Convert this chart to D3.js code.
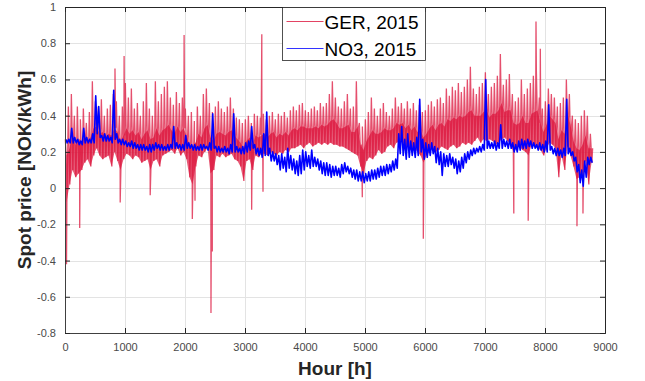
<!DOCTYPE html>
<html>
<head>
<meta charset="utf-8">
<script src="https://cdn.jsdelivr.net/npm/d3@7"></script>
<style>
  body { margin: 0; background: #fff; }
  svg { display: block; font-family: "Liberation Sans", Arial, sans-serif; }
</style>
</head>
<body>
<svg id="chart" width="645" height="381"></svg>
<script>
// hourly spot prices, read off the picture as 50-hour bins
// (upper edge, dense middle and lower edge of the trace)
const binHours = 50;

const gerHi = [
  0.27,0.45,0.52,0.40,0.45,0.38,0.44,0.36,0.42,0.59, 0.48,0.45,0.49,0.40,0.44,0.46,0.52,0.48,0.40,0.45,
  0.58,0.50,0.55,0.44,0.47,0.40,0.48,0.58,0.44,0.40, 0.59,0.48,0.52,0.56,0.59,0.50,0.46,0.53,0.47,0.50,
  0.44,0.40,0.42,0.37,0.45,0.40,0.52,0.55,0.47,0.42, 0.45,0.48,0.44,0.42,0.45,0.50,0.44,0.39,0.38,0.36,
  0.38,0.40,0.36,0.41,0.40,0.39,0.41,0.38,0.40,0.42, 0.38,0.41,0.40,0.42,0.39,0.43,0.45,0.43,0.46,0.47,
  0.43,0.42,0.44,0.45,0.43,0.47,0.45,0.47,0.52,0.59, 0.50,0.45,0.44,0.48,0.52,0.44,0.45,0.59,0.36,0.34,
  0.38,0.42,0.50,0.44,0.40,0.44,0.47,0.42,0.40,0.44, 0.50,0.45,0.47,0.44,0.48,0.44,0.47,0.43,0.46,0.42,
  0.43,0.46,0.48,0.45,0.49,0.50,0.47,0.55,0.51,0.56, 0.54,0.58,0.53,0.56,0.60,0.67,0.55,0.52,0.56,0.58,
  0.64,0.52,0.56,0.58,0.62,0.74,0.57,0.60,0.63,0.52, 0.48,0.50,0.60,0.52,0.55,0.58,0.62,0.65,0.50,0.44,
  0.48,0.55,0.52,0.50,0.45,0.47,0.50,0.60,0.52,0.40, 0.38,0.36,0.40,0.43,0.40,0.30
];
const gerMid = [
  0.18,0.22,0.30,0.24,0.27,0.25,0.29,0.26,0.28,0.33, 0.34,0.30,0.31,0.28,0.30,0.29,0.33,0.31,0.26,0.29,
  0.33,0.30,0.32,0.29,0.31,0.27,0.30,0.32,0.27,0.28, 0.33,0.29,0.32,0.33,0.35,0.32,0.30,0.34,0.31,0.33,
  0.29,0.24,0.22,0.25,0.30,0.28,0.33,0.35,0.28,0.26, 0.30,0.31,0.30,0.29,0.31,0.32,0.29,0.27,0.25,0.22,
  0.26,0.28,0.24,0.29,0.28,0.29,0.30,0.28,0.30,0.31, 0.28,0.30,0.29,0.31,0.29,0.32,0.33,0.32,0.34,0.34,
  0.33,0.33,0.33,0.34,0.33,0.35,0.34,0.35,0.37,0.38, 0.36,0.33,0.33,0.34,0.35,0.31,0.31,0.34,0.24,0.21,
  0.26,0.29,0.32,0.30,0.30,0.31,0.33,0.32,0.32,0.33, 0.36,0.35,0.36,0.33,0.35,0.32,0.34,0.31,0.32,0.28,
  0.30,0.33,0.35,0.32,0.35,0.36,0.34,0.38,0.37,0.39, 0.38,0.40,0.39,0.40,0.42,0.43,0.40,0.40,0.40,0.42,
  0.43,0.39,0.41,0.41,0.43,0.47,0.42,0.43,0.43,0.36, 0.35,0.36,0.40,0.36,0.36,0.41,0.42,0.43,0.36,0.31,
  0.35,0.40,0.38,0.36,0.27,0.32,0.30,0.41,0.35,0.26, 0.22,0.21,0.24,0.29,0.22,0.22
];
const gerLo = [
  -0.08,0.02,0.10,0.06,0.08,0.10,0.14,0.16,0.12,0.18, 0.22,0.18,0.16,0.17,0.18,0.12,0.20,0.15,0.10,0.16,
  0.19,0.18,0.16,0.18,0.17,0.14,0.15,0.16,0.10,0.15, 0.16,0.12,0.18,0.19,0.20,0.21,0.19,0.22,0.18,0.20,
  0.16,0.06,0.02,0.12,0.18,0.17,0.20,0.22,0.08,0.10, 0.18,0.17,0.19,0.17,0.18,0.19,0.16,0.15,0.12,0.04,
  0.15,0.16,0.10,0.18,0.17,0.19,0.19,0.18,0.20,0.19, 0.18,0.20,0.19,0.21,0.20,0.22,0.22,0.23,0.24,0.22,
  0.24,0.25,0.23,0.24,0.25,0.24,0.25,0.24,0.25,0.24, 0.24,0.23,0.23,0.22,0.21,0.20,0.19,0.18,0.12,0.08,
  0.15,0.17,0.16,0.18,0.21,0.19,0.20,0.23,0.24,0.22, 0.25,0.26,0.25,0.22,0.24,0.20,0.22,0.20,0.18,0.14,
  0.18,0.20,0.22,0.20,0.21,0.23,0.22,0.21,0.23,0.24, 0.22,0.23,0.25,0.24,0.25,0.24,0.26,0.28,0.25,0.27,
  0.26,0.27,0.26,0.24,0.25,0.27,0.28,0.26,0.24,0.20, 0.22,0.23,0.21,0.20,0.18,0.24,0.23,0.22,0.21,0.18,
  0.22,0.25,0.24,0.22,0.06,0.18,0.10,0.23,0.18,0.12, 0.05,0.06,0.08,0.15,0.02,0.14
];
// single-hour extremes of the German price: [hour, NOK/kWh]
const gerSpikes = [
  [25,-0.42],[245,-0.22],[833,0.66],[920,-0.08],[985,0.73],[1420,-0.04],[1985,0.845],
  [2122,-0.17],[2167,-0.07],[2433,-0.69],[2455,-0.35],[3111,-0.12],[3280,0.85],[3300,-0.02],
  [4955,-0.05],[5972,-0.28],[7480,-0.14],[7720,-0.18],[7850,0.92],[7922,0.77],[8533,-0.21],[8633,-0.14]
];

const no3Hi = [
  0.27,0.27,0.33,0.28,0.27,0.26,0.33,0.28,0.27,0.30, 0.51,0.45,0.29,0.30,0.29,0.28,0.54,0.30,0.27,0.27,
  0.26,0.25,0.26,0.25,0.24,0.24,0.24,0.23,0.24,0.24, 0.25,0.24,0.24,0.23,0.24,0.24,0.34,0.25,0.24,0.24,
  0.29,0.25,0.24,0.24,0.23,0.24,0.24,0.23,0.25,0.41, 0.23,0.23,0.22,0.23,0.22,0.24,0.41,0.23,0.22,0.23,
  0.25,0.26,0.34,0.24,0.22,0.22,0.30,0.42,0.22,0.20, 0.19,0.18,0.19,0.17,0.22,0.18,0.16,0.15,0.18,0.21,
  0.20,0.18,0.21,0.17,0.16,0.15,0.14,0.14,0.13,0.12, 0.12,0.11,0.13,0.14,0.12,0.11,0.10,0.10,0.09,0.09,
  0.08,0.09,0.10,0.10,0.11,0.12,0.12,0.13,0.13,0.15, 0.16,0.30,0.34,0.27,0.30,0.26,0.25,0.28,0.49,0.27,
  0.25,0.24,0.25,0.23,0.22,0.20,0.19,0.18,0.19,0.17, 0.16,0.15,0.17,0.19,0.20,0.21,0.22,0.22,0.23,0.24,
  0.60,0.26,0.25,0.26,0.25,0.35,0.27,0.26,0.27,0.25, 0.24,0.26,0.27,0.26,0.27,0.26,0.25,0.24,0.25,0.24,
  0.26,0.46,0.23,0.22,0.22,0.21,0.22,0.49,0.22,0.20, 0.17,0.13,0.10,0.15,0.17,0.17
];
const no3Lo = [
  0.25,0.25,0.25,0.25,0.24,0.24,0.25,0.25,0.25,0.25, 0.30,0.28,0.26,0.26,0.26,0.25,0.27,0.25,0.24,0.24,
  0.23,0.23,0.22,0.22,0.21,0.21,0.21,0.20,0.20,0.21, 0.22,0.21,0.21,0.21,0.21,0.22,0.22,0.22,0.21,0.21,
  0.22,0.22,0.21,0.21,0.21,0.21,0.22,0.21,0.21,0.22, 0.20,0.20,0.20,0.20,0.19,0.20,0.20,0.20,0.19,0.19,
  0.20,0.21,0.22,0.19,0.18,0.17,0.18,0.18,0.15,0.15, 0.13,0.10,0.11,0.09,0.11,0.10,0.08,0.07,0.08,0.10,
  0.12,0.11,0.12,0.12,0.10,0.08,0.07,0.07,0.06,0.07, 0.07,0.06,0.08,0.09,0.08,0.06,0.05,0.04,0.04,0.03,
  0.04,0.04,0.05,0.05,0.06,0.07,0.07,0.08,0.09,0.10, 0.11,0.19,0.18,0.16,0.17,0.18,0.17,0.18,0.20,0.16,
  0.17,0.18,0.19,0.14,0.13,0.07,0.12,0.12,0.13,0.11, 0.08,0.09,0.11,0.14,0.16,0.18,0.19,0.20,0.20,0.21,
  0.22,0.22,0.22,0.21,0.22,0.22,0.23,0.22,0.22,0.20, 0.20,0.21,0.22,0.22,0.23,0.22,0.22,0.21,0.21,0.20,
  0.20,0.21,0.19,0.18,0.18,0.17,0.18,0.19,0.18,0.15, 0.09,0.03,0.01,0.06,0.13,0.14
];

const xTicks = [0,1000,2000,3000,4000,5000,6000,7000,8000,9000];
const yTicks = [-0.8,-0.6,-0.4,-0.2,0,0.2,0.4,0.6,0.8,1];
const seriesNames = ["GER, 2015", "NO3, 2015"];
const seriesColors = ["#dc143c", "#0000ff"];

const svg = d3.select("#chart");
const margin = { top: 7, right: 40, bottom: 48, left: 65 },
  width = 645 - margin.left - margin.right,
  height = 381 - margin.top - margin.bottom;

const x = d3.scaleLinear().domain([0, 9000]).range([0, width]);
const y = d3.scaleLinear().domain([-0.8, 1]).range([height, 0]);

const g = svg.append("g").attr("transform", `translate(${margin.left},${margin.top})`);

// grid
g.append("g")
  .selectAll("line")
  .data(xTicks.slice(1, -1))
  .enter()
  .append("line")
  .attr("x1", (d) => Math.round(x(d)) + 0.5)
  .attr("x2", (d) => Math.round(x(d)) + 0.5)
  .attr("y1", 0)
  .attr("y2", height)
  .attr("stroke", "#e3e3e3");
g.append("g")
  .selectAll("line")
  .data(yTicks.slice(1, -1))
  .enter()
  .append("line")
  .attr("y1", (d) => Math.round(y(d)) + 0.5)
  .attr("y2", (d) => Math.round(y(d)) + 0.5)
  .attr("x1", 0)
  .attr("x2", width)
  .attr("stroke", "#e3e3e3");

// one bin -> its edge values in hour order; extremes merged in by hour
const toPoints = (cols, offsets, spikes) => {
  const pts = cols[0].flatMap((_, i) =>
    cols.map((c, k) => ({ h: i * binHours + offsets[k], v: c[i] }))
  );
  (spikes || []).forEach((s) => pts.push({ h: s[0], v: s[1] }));
  return pts.sort((a, b) => a.h - b.h);
};

const line = d3
  .line()
  .x((d) => x(d.h))
  .y((d) => y(d.v));

// dense core of the German trace (lower edge up to the middle level)
const core = d3
  .area()
  .x((d, i) => x(i * binHours + 25))
  .y0((d, i) => y(gerLo[i]))
  .y1((d) => y(d));

g.append("path")
  .datum(gerMid)
  .attr("fill", seriesColors[0])
  .attr("fill-opacity", 0.7)
  .attr("d", core);

g.append("path")
  .datum(toPoints([gerHi, gerMid, gerLo, gerMid], [6, 19, 31, 44], gerSpikes))
  .attr("fill", "none")
  .attr("stroke", seriesColors[0])
  .attr("stroke-opacity", 0.75)
  .attr("stroke-width", 1.3)
  .attr("d", line);

g.append("path")
  .datum(toPoints([no3Hi, no3Lo], [12, 37]))
  .attr("fill", "none")
  .attr("stroke", seriesColors[1])
  .attr("stroke-width", 1.6)
  .attr("stroke-linejoin", "round")
  .attr("d", line);

// axes (box, inward ticks like the original)
const tickColor = "#262626";
g.append("g")
  .attr("transform", `translate(0,${height})`)
  .call(d3.axisBottom(x).tickValues(xTicks).tickSize(-5).tickPadding(10).tickFormat(d3.format("d")))
  .call((a) => a.select(".domain").attr("stroke", "#404040"));
g.append("g")
  .call(d3.axisLeft(y).tickValues(yTicks).tickSize(-5).tickPadding(9).tickFormat((d) => String(+d.toFixed(1))))
  .call((a) => a.select(".domain").attr("stroke", "#404040"));
g.append("g")
  .attr("transform", `translate(${width},0)`)
  .call(d3.axisRight(y).tickValues(yTicks).tickSize(-5).tickFormat(""))
  .call((a) => a.select(".domain").attr("stroke", tickColor));
g.append("g")
  .call(d3.axisTop(x).tickValues(xTicks).tickSize(-5).tickFormat(""))
  .call((a) => a.select(".domain").attr("stroke", tickColor));

g.selectAll(".tick line").attr("stroke", tickColor);
g.selectAll(".tick text")
  .attr("fill", "#4a4a4a")
  .style("font-size", "11px")
  .style("font-family", '"Liberation Sans", Arial, sans-serif');

// axis titles
svg.append("text")
  .attr("x", margin.left + width / 2)
  .attr("y", 375)
  .attr("text-anchor", "middle")
  .attr("fill", "#262626")
  .style("font-size", "19px")
  .style("font-weight", "bold")
  .text("Hour [h]");

svg.append("text")
  .attr("transform", `translate(31,${margin.top + height / 2}) rotate(-90)`)
  .attr("text-anchor", "middle")
  .attr("fill", "#262626")
  .style("font-size", "19px")
  .style("font-weight", "bold")
  .text("Spot price [NOK/kWh]");

// legend
const legend = svg.append("g").attr("transform", "translate(282.5,7.5)");
legend.append("rect")
  .attr("width", 143)
  .attr("height", 53)
  .attr("fill", "#fff")
  .attr("stroke", "#262626")
  .attr("stroke-width", 0.8);
const item = legend
  .selectAll("g.item")
  .data(seriesNames)
  .enter()
  .append("g")
  .attr("class", "item")
  .attr("transform", (d, i) => `translate(0,${14 + i * 27})`);
item.append("line")
  .attr("x1", 4)
  .attr("x2", 41)
  .attr("stroke", (d, i) => seriesColors[i])
  .attr("stroke-opacity", 0.8);
item.append("text")
  .attr("x", 42)
  .attr("y", 7)
  .attr("fill", "#000")
  .style("font-size", "19px")
  .text((d) => d);
</script>
</body>
</html>
